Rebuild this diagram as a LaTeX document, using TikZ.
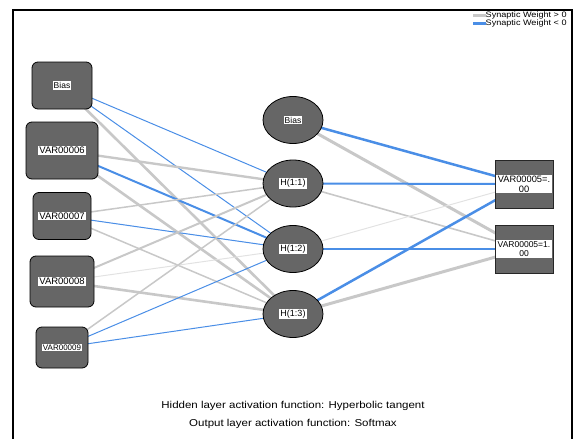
\documentclass[tikz,border=0pt]{standalone}
\usepackage{fontspec}
\setmainfont{Liberation Sans}
\newfontfamily\widefont[FakeStretch=1.15]{Liberation Sans}
\usetikzlibrary{backgrounds,shapes.geometric}
\definecolor{nodegray}{HTML}{666666}
\definecolor{posgray}{HTML}{C8C8C8}
\definecolor{palegray}{HTML}{E2E2E2}
\definecolor{negblue}{HTML}{4A8EE6}
\tikzset{
  inbox/.style={draw=black, line width=0.8pt, fill=nodegray, rounded corners=6pt, inner sep=0pt},
  hid/.style={ellipse, draw=black, line width=0.8pt, fill=nodegray, minimum width=60pt, minimum height=47pt, inner sep=0pt},
  outbox/.style={draw=black!85, line width=0.8pt, fill=nodegray, minimum width=58pt, minimum height=48pt, inner sep=0pt},
  pos/.style={draw=posgray, line width=#1},
  pale/.style={draw=palegray, line width=#1},
  neg/.style={draw=negblue, line width=#1},
  plain/.style={inner sep=0pt, font=\widefont\fontsize{10}{12}\selectfont},
  legtext/.style={inner sep=0pt, anchor=west, font=\widefont\fontsize{7.9}{9}\selectfont},
}
\newcommand{\lbl}[2]{{\fontsize{#1}{#1}\selectfont\setlength{\fboxsep}{1pt}\colorbox{white}{#2}}}
\newcommand{\olbl}[3]{{\fontsize{#1}{#1}\selectfont\setlength{\fboxsep}{1pt}\colorbox{white}{\parbox{54pt}{\centering #2\\[1pt] #3}}}}
\begin{document}
\begin{tikzpicture}[x=1pt,y=-1pt]
\useasboundingbox (0,0) rectangle (574,439);
% frame
\draw[black, line width=1.3pt] (13,445) -- (13,10) -- (572,10) -- (572,445);

% input nodes
\node[inbox, minimum width=60pt, minimum height=47pt] (ib) at (62,85.5) {\lbl{8.5}{Bias}};
\node[inbox, minimum width=72pt, minimum height=57pt] (i6) at (62,150.5) {\lbl{9.5}{VAR00006}};
\node[inbox, minimum width=58pt, minimum height=47pt] (i7) at (62,216) {\lbl{9.5}{VAR00007}};
\node[inbox, minimum width=64pt, minimum height=51pt] (i8) at (62,281.5) {\lbl{9.5}{VAR00008}};
\node[inbox, minimum width=52pt, minimum height=41pt] (i9) at (62,347.5) {\lbl{8}{VAR00009}};

% hidden nodes
\node[hid] (hb) at (293,120) {\lbl{8.5}{Bias}};
\node[hid] (h1) at (293,183.5) {\lbl{9}{H(1:1)}};
\node[hid] (h2) at (293,249) {\lbl{9}{H(1:2)}};
\node[hid] (h3) at (293,314) {\lbl{9}{H(1:3)}};

% output nodes
\node[outbox] (o1) at (524,184) {\olbl{9.3}{VAR00005=.}{00}};
\node[outbox] (o2) at (524,249) {\olbl{8.5}{VAR00005=1.}{00}};

\begin{scope}[on background layer]
% input -> hidden
\draw[neg=1pt] (ib.center) -- (h1.center);
\draw[neg=1pt] (ib.center) -- (h2.center);
\draw[pos=2.6pt] (ib.center) -- (h3.center);
\draw[pos=2.4pt] (i6.center) -- (h1.center);
\draw[neg=2pt] (i6.center) -- (h2.center);
\draw[pos=2.6pt] (i6.center) -- (h3.center);
\draw[pos=1.5pt] (i7.center) -- (h1.center);
\draw[neg=1pt] (i7.center) -- (h2.center);
\draw[pos=1.5pt] (i7.center) -- (h3.center);
\draw[pos=2pt] (i8.center) -- (h1.center);
\draw[pale=1pt] (i8.center) -- (h2.center);
\draw[pos=2.6pt] (i8.center) -- (h3.center);
\draw[pos=1.5pt] (i9.center) -- (h1.center);
\draw[neg=1pt] (i9.center) -- (h2.center);
\draw[neg=1pt] (i9.center) -- (h3.center);
% hidden -> output
\draw[neg=2.5pt] (hb.center) -- (o1.center);
\draw[pos=3pt] (hb.center) -- (o2.center);
\draw[neg=2pt] (h1.center) -- (o1.center);
\draw[pos=1.6pt] (h1.center) -- (o2.center);
\draw[pale=1pt] (h2.center) -- (o1.center);
\draw[neg=2pt] (h2.center) -- (o2.center);
\draw[neg=2.5pt] (h3.center) -- (o1.center);
\draw[pos=3pt] (h3.center) -- (o2.center);
\end{scope}

% legend
\node[legtext] (lg1) at (485.5,15.5) {Synaptic Weight > 0};
\node[legtext] (lg2) at (485.5,23.5) {Synaptic Weight < 0};
\coordinate (lg1s) at (473,15.5);
\coordinate (lg2s) at (473,23.5);
\draw[pos=2.5pt] (lg1s) -- (lg1.west);
\draw[neg=2.5pt] (lg2s) -- (lg2.west);

% footnotes
\node[plain] (f1) at (293,406) {Hidden layer activation function: Hyperbolic tangent};
\node[plain] (f2) at (293,424) {Output layer activation function: Softmax};
\end{tikzpicture}
\end{document}
